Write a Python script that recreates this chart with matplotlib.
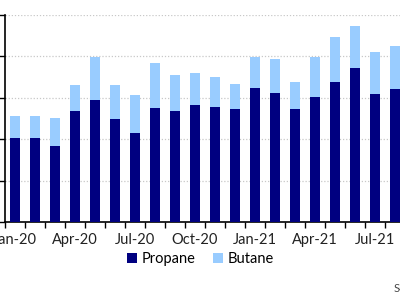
import numpy as np
import matplotlib.pyplot as plt

months = ["Jan-20", "Feb-20", "Mar-20", "Apr-20", "May-20", "Jun-20", "Jul-20",
          "Aug-20", "Sep-20", "Oct-20", "Nov-20", "Dec-20", "Jan-21", "Feb-21",
          "Mar-21", "Apr-21", "May-21", "Jun-21", "Jul-21", "Aug-21"]
propane = [2.04, 2.04, 1.84, 2.69, 2.95, 2.50, 2.14, 2.75, 2.69, 2.82,
           2.77, 2.72, 3.23, 3.12, 2.72, 3.02, 3.37, 3.73, 3.09, 3.21]
butane = [0.51, 0.51, 0.66, 0.63, 1.04, 0.81, 0.93, 1.09, 0.87, 0.77,
          0.73, 0.62, 0.75, 0.82, 0.65, 0.97, 1.09, 1.00, 1.02, 1.03]

plt.rcParams["font.family"] = ["Lato", "DejaVu Sans"]

fig = plt.figure(figsize=(4, 3), dpi=100)
# chart is cropped on the right, so the axes run past the figure edge
ax = fig.add_axes([0.0125, 0.26, 1.0, 0.69])

x = np.arange(len(months))
ax.bar(x, propane, width=0.5, color="#000080", label="Propane", zorder=3)
ax.bar(x, butane, width=0.5, bottom=propane, color="#99CCFF", label="Butane", zorder=3)

ax.set_xlim(-0.5, len(months) - 0.5)
ax.set_ylim(0, 5)
ax.set_yticks(np.arange(0, 6, 1))
ax.set_yticklabels([])
ax.yaxis.grid(True, linestyle=(0, (1, 1.5)), color="#c8c8c8", linewidth=0.9, zorder=0)

ax.set_xticks(x[::3])
ax.set_xticklabels(months[::3], fontsize=10.5, color="#222222")
ax.set_xticks(np.arange(-0.5, len(months), 1), minor=True)
ax.tick_params(axis="x", which="major", length=0, pad=8)
ax.tick_params(axis="x", which="minor", length=4, width=1, color="black", direction="out")
ax.tick_params(axis="y", length=4, width=1, color="black", direction="out")

for s in ["top", "right"]:
    ax.spines[s].set_visible(False)
ax.spines["left"].set_linewidth(1.2)
ax.spines["bottom"].set_linewidth(1.2)

fig.legend(loc="center", bbox_to_anchor=(0.5, 0.137), ncol=2, frameon=False,
           fontsize=10.5, handlelength=0.7, handleheight=0.7, handletextpad=0.3,
           columnspacing=1.2)

fig.text(0.983, 0.025, "Source", fontsize=8, color="#444444")

fig.savefig("out.png", dpi=100)
